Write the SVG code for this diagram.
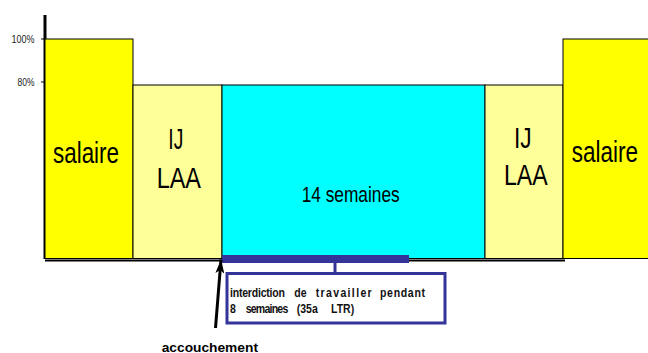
<svg xmlns="http://www.w3.org/2000/svg" width="648" height="353" viewBox="0 0 648 353">
  <style>
    .bar { stroke: #000; stroke-width: 1; }
    .sal { fill: #FFFF00; }
    .ij { fill: #FFFF99; }
    .cong { fill: #00FFFF; }
    .lbl { font-family: "Liberation Sans", Arial, sans-serif; fill: #000; }
    .big { font-size: 30px; }
    .axis-lbl { font-size: 10px; fill: #222; }
    .note { font-size: 13.5px; font-weight: bold; fill: #111; }
  </style>
  <defs>
    <marker id="head" viewBox="0 0 14 9" refX="14" refY="4.5" markerWidth="4.67" markerHeight="3" orient="auto" markerUnits="strokeWidth">
      <path d="M0,0 L14,4.5 L0,9 L3.5,4.5 Z" fill="#000"/>
    </marker>
  </defs>

  <rect width="648" height="353" fill="#fff"/>

  <!-- axis -->
  <g id="axis">
    <line x1="45" y1="15" x2="45" y2="259" stroke="#000" stroke-width="3"/>
    <line x1="41" y1="39" x2="45" y2="39" stroke="#000" stroke-width="1"/>
    <line x1="41" y1="82" x2="45" y2="82" stroke="#000" stroke-width="1"/>
    <text class="lbl axis-lbl" x="11.5" y="43" textLength="23" lengthAdjust="spacingAndGlyphs">100%</text>
    <text class="lbl axis-lbl" x="17.5" y="86" textLength="17" lengthAdjust="spacingAndGlyphs">80%</text>
  </g>

  <!-- periods -->
  <g id="salaire-avant">
    <rect class="bar sal" x="45" y="39" width="88" height="219.5"/>
    <text class="lbl big" x="53" y="162.5" textLength="66" lengthAdjust="spacingAndGlyphs">salaire</text>
  </g>
  <g id="ij-laa-avant">
    <rect class="bar ij" x="133" y="85" width="89" height="173.5"/>
    <text class="lbl big" x="168.3" y="149.3" textLength="15" lengthAdjust="spacingAndGlyphs">IJ</text>
    <text class="lbl big" x="156.7" y="187.5" textLength="44.3" lengthAdjust="spacingAndGlyphs">LAA</text>
  </g>
  <g id="conge-14-semaines">
    <rect class="bar cong" x="222" y="85" width="263" height="173.5"/>
    <text class="lbl" font-size="22.5" x="301.7" y="201.7" textLength="98" lengthAdjust="spacingAndGlyphs">14 semaines</text>
  </g>
  <g id="ij-laa-apres">
    <rect class="bar ij" x="485" y="85" width="78" height="173.5"/>
    <text class="lbl big" x="514" y="147.5" textLength="17.7" lengthAdjust="spacingAndGlyphs">IJ</text>
    <text class="lbl big" x="504" y="184.5" textLength="43.7" lengthAdjust="spacingAndGlyphs">LAA</text>
  </g>
  <g id="salaire-apres">
    <rect class="bar sal" x="563" y="39" width="86" height="219.5"/>
    <text class="lbl big" transform="translate(571.7,162) scale(0.75,1)">salaire</text>
  </g>

  <!-- time line -->
  <g id="baseline">
    <line x1="45" y1="260.5" x2="565" y2="260.5" stroke="#000" stroke-width="2"/>
  </g>

  <!-- 8-week ban -->
  <g id="interdiction-8-semaines">
    <rect x="222" y="255" width="187" height="8" fill="#333399"/>
  </g>
  <g id="note-interdiction">
    <rect x="227" y="273.5" width="218" height="49.5" fill="#fff" stroke="#333399" stroke-width="3"/>
    <!-- condensed, justified lines: one text per word -->
    <g transform="translate(230,0) scale(0.78,1)">
      <text class="lbl note" x="0" y="296.7" textLength="70.5" lengthAdjust="spacing">interdiction</text>
      <text class="lbl note" x="82.4" y="296.7" textLength="15.9" lengthAdjust="spacing">de</text>
      <text class="lbl note" x="109.9" y="296.7" textLength="71.8" lengthAdjust="spacing">travailler</text>
      <text class="lbl note" x="192.3" y="296.7" textLength="57.7" lengthAdjust="spacing">pendant</text>
      <text class="lbl note" x="0" y="313.3">8</text>
      <text class="lbl note" x="20.1" y="313.3" textLength="54.6" lengthAdjust="spacing">semaines</text>
      <text class="lbl note" x="85.5" y="313.3">(35a</text>
      <text class="lbl note" x="129.5" y="313.3">LTR)</text>
    </g>
  </g>

  <!-- birth -->
  <g id="accouchement">
    <text class="lbl" font-size="13" font-weight="bold" fill="#111" x="161.7" y="351.5" textLength="96.3" lengthAdjust="spacingAndGlyphs">accouchement</text>
  </g>

  <!-- connectors -->
  <g id="connectors">
    <line x1="335" y1="263" x2="335" y2="273" stroke="#333399" stroke-width="3"/>
    <line x1="215.5" y1="328" x2="221" y2="259.5" stroke="#000" stroke-width="3" marker-end="url(#head)"/>
  </g>
</svg>
